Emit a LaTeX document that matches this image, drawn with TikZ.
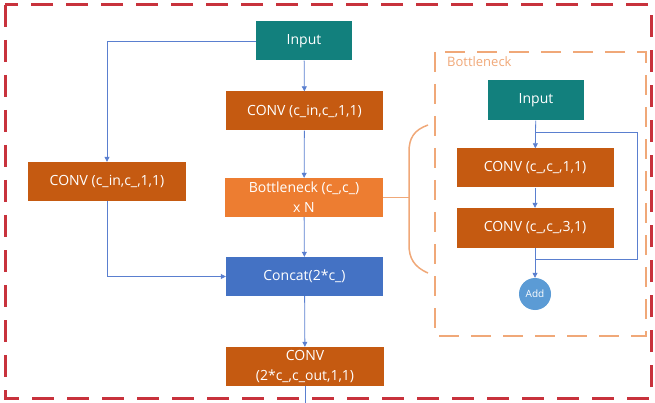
\documentclass[tikz,border=0pt]{standalone}
\usepackage{fontspec}
\setmainfont{Open Sans}
\usetikzlibrary{arrows.meta}
\definecolor{tealc}{HTML}{12807D}
\definecolor{dorange}{HTML}{C55A11}
\definecolor{lorange}{HTML}{ED7D31}
\definecolor{blueb}{HTML}{4472C4}
\definecolor{addc}{HTML}{5B9BD5}
\definecolor{arrc}{HTML}{5A7FCF}
\definecolor{redd}{HTML}{C8323C}
\definecolor{peach}{HTML}{F0A878}
\tikzset{
  box/.style={rectangle, draw=none, text=white, align=center, font=\fontsize{14}{20}\selectfont, inner sep=1pt},
  inbox/.style={box, fill=tealc, minimum width=96pt, minimum height=39pt},
  convbox/.style={box, fill=dorange, minimum width=157pt, minimum height=39pt},
  bnbox/.style={box, fill=lorange, minimum width=158pt, minimum height=39pt},
  catbox/.style={box, fill=blueb, minimum width=157pt, minimum height=39pt},
  flow/.style={draw=arrc, line width=0.8pt, -{Triangle[length=5pt,width=5pt]}},
  plain/.style={draw=arrc, line width=0.8pt},
}
\begin{document}
\begin{tikzpicture}[x=1pt,y=-1pt]
\useasboundingbox (0,0) rectangle (655,403);
% outer frame
\draw[redd, line width=3pt, dash pattern=on 22pt off 13pt] (5,5) rectangle (651,398);
% main nodes
\node[inbox] (in1) at (304,41) {Input};
\node[convbox] (c1) at (304.5,111) {CONV (c\_in,c\_,1,1)};
\node[convbox, minimum width=158pt] (cl) at (107,181.5) {CONV (c\_in,c\_,1,1)};
\node[bnbox] (bn) at (304,197.5) {Bottleneck (c\_,c\_)\\x N};
\node[catbox] (cat) at (304.5,276.5) {Concat(2*c\_)};
\node[convbox, minimum width=158pt] (c2) at (305,366.5) {CONV\\(2*c\_,c\_out,1,1)};
\coordinate (c2out) at (305,403);
% main connectors
\draw[flow] (in1) -- (c1);
\draw[flow] (c1) -- (bn);
\draw[flow] (bn) -- (cat);
\draw[flow] (cat) -- (c2);
\draw[plain] (c2) -- (c2out);
\draw[flow] (in1.west) -| (cl.north);
\draw[flow] (cl.south) |- (cat.west);
% bottleneck detail box
\draw[peach, line width=2pt, dash pattern=on 20pt off 12pt] (435,52) rectangle (646,336);
\node[anchor=west, text=peach, font=\fontsize{13}{15}\selectfont, inner sep=0pt] (bnlabel) at (447,62) {Bottleneck};
\node[inbox, minimum height=40pt] (in2) at (536,100.5) {Input};
\node[convbox, minimum height=39pt] (b1) at (535,168) {CONV (c\_,c\_,1,1)};
\node[convbox, minimum height=40pt] (b2) at (535,228) {CONV (c\_,c\_,3,1)};
\node[circle, fill=addc, text=white, minimum size=32pt, inner sep=0pt, font=\fontsize{10}{12}\selectfont] (add) at (535,294) {Add};
\draw[flow] (in2) -- (b1);
\draw[flow] (b1) -- (b2);
\draw[flow] (b2) -- (add);
\coordinate (s1) at (536,132);
\coordinate (s2) at (637,132);
\coordinate (s3) at (637,259);
\coordinate (s4) at (536,259);
\draw[plain] (s1) -- (s2) -- (s3) -- (s4);
% bracket
\coordinate (br) at (409,197.5);
\draw[peach, line width=1.5pt] (bn.east) -- (br);
\draw[peach, line width=1.5pt] (428,125) .. controls (414,130) and (409,138) .. (409,152) -- (409,245) .. controls (409,258) and (414,267) .. (428,273);
\end{tikzpicture}
\end{document}
